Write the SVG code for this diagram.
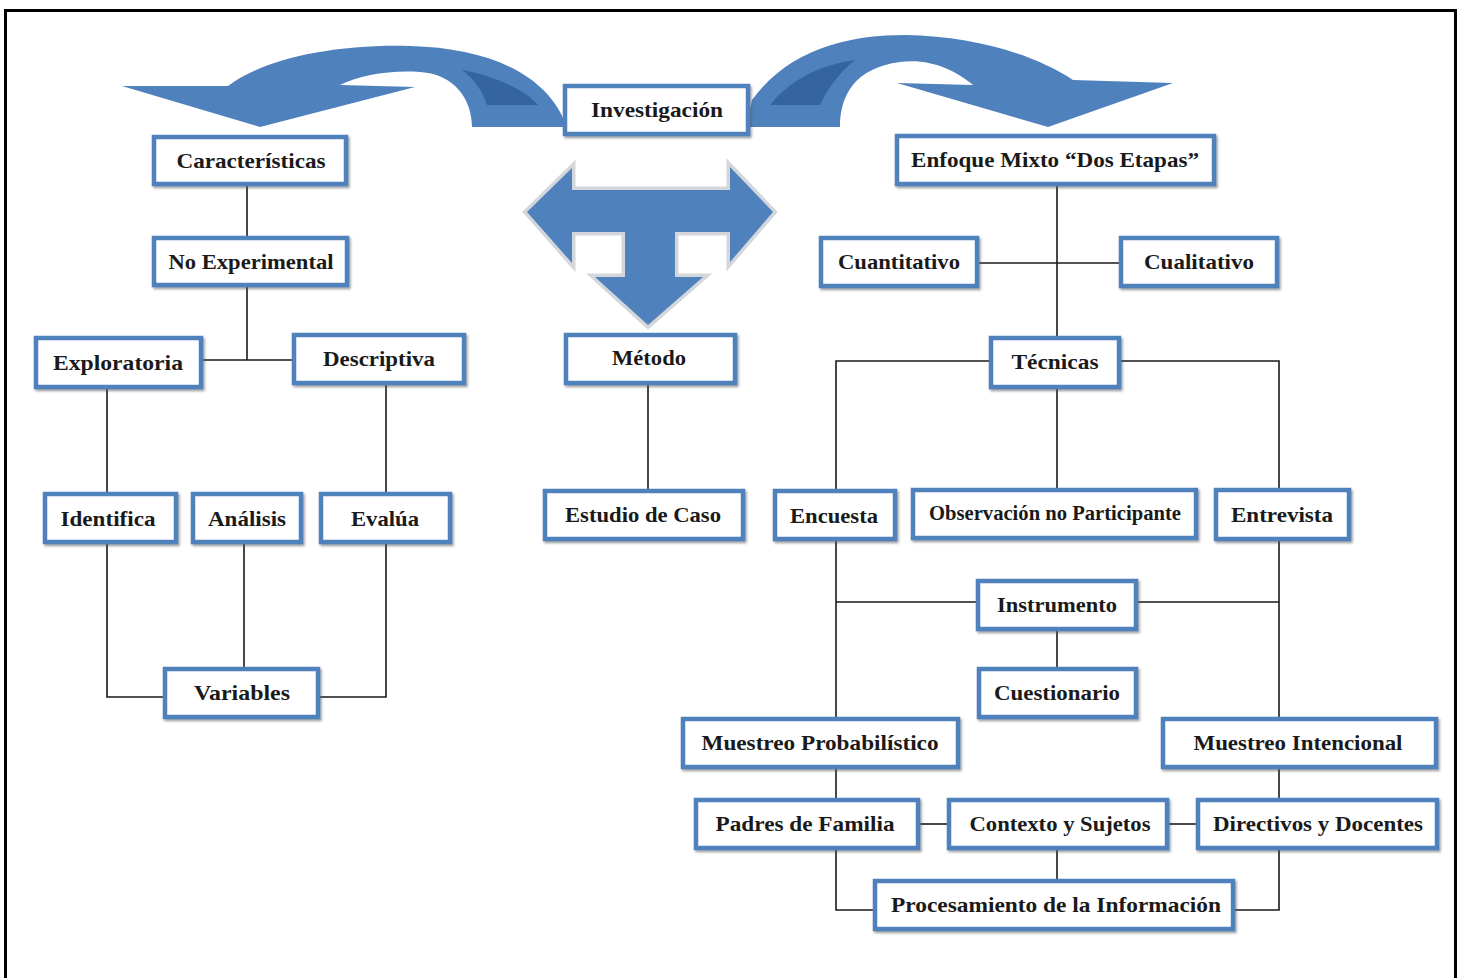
<svg xmlns="http://www.w3.org/2000/svg" width="1464" height="978" viewBox="0 0 1464 978">
<style>
.box{fill:#fff;stroke:#4f81bd;stroke-width:4.5;filter:url(#sh)}
.t{font-family:"Liberation Serif","Times New Roman",serif;font-weight:bold;font-size:22px;fill:#1a1a1a;text-anchor:middle}
.c{fill:none;stroke:#1a1a1a;stroke-width:1.6}
.arr{fill:#4f81bd}
.dark{fill:#35659f}
</style>
<defs>
<filter id="sh" x="-10%" y="-20%" width="120%" height="150%">
<feDropShadow dx="1.5" dy="2" stdDeviation="1.2" flood-color="#555" flood-opacity="0.55"/>
</filter>
</defs>
<rect x="0" y="0" width="1464" height="978" fill="#fff"/>
<rect x="5.5" y="10.5" width="1450" height="980" fill="#fff" stroke="#000" stroke-width="3"/>

<g id="arrows">
<path class="arr" d="M122,86 L228,86 C262,60 330,44 410,46 C490,48 548,75 566,125 L566,127 L472,127 C472,100 455,74 420,72 C390,70 360,75 340,85 L415,87 L260,127 Z"/>
<path class="dark" d="M462,70 C495,76 525,90 538,105 L487,105 C483,92 475,80 462,70 Z"/>
<path class="arr" d="M1173,83 L1073,80 C1035,55 975,36 905,35 C850,35 790,48 752,100 L746,127 L840,127 C840,95 855,68 900,62 C930,58 955,70 973,85 L897,83 L1048,127 Z"/>
<path class="dark" d="M770,105 C790,80 820,65 855,60 C840,72 828,88 820,105 Z"/>
<path d="M527,212 L572,168 L572,190 L730,190 L730,167 L773,212 L730,262 L730,232 L675,232 L675,277 L703,277 L648,325 L595,277 L625,277 L625,232 L572,232 L572,263 Z" fill="none" stroke="#d3d7dc" stroke-width="7" stroke-linejoin="miter"/>
<path class="arr" d="M527,212 L572,168 L572,190 L730,190 L730,167 L773,212 L730,262 L730,232 L675,232 L675,277 L703,277 L648,325 L595,277 L625,277 L625,232 L572,232 L572,263 Z"/>
</g>

<g id="connectors">
<polyline class="c" points="247,186 247,236"/>
<polyline class="c" points="247,287 247,360"/>
<polyline class="c" points="203,360 292,360"/>
<polyline class="c" points="107,389 107,492"/>
<polyline class="c" points="386,385 386,492"/>
<polyline class="c" points="107,544 107,697 163,697"/>
<polyline class="c" points="244,544 244,667"/>
<polyline class="c" points="386,544 386,697 320,697"/>
<polyline class="c" points="648,385 648,489"/>
<polyline class="c" points="1057,186 1057,336"/>
<polyline class="c" points="979,263 1119,263"/>
<polyline class="c" points="989,361 836,361 836,489"/>
<polyline class="c" points="1121,361 1279,361 1279,488"/>
<polyline class="c" points="1057,389 1057,488"/>
<polyline class="c" points="836,541 836,717"/>
<polyline class="c" points="836,602 976,602"/>
<polyline class="c" points="1279,541 1279,717"/>
<polyline class="c" points="1138,602 1279,602"/>
<polyline class="c" points="1057,631 1057,667"/>
<polyline class="c" points="836,769 836,798"/>
<polyline class="c" points="836,850 836,910 873,910"/>
<polyline class="c" points="1279,769 1279,798"/>
<polyline class="c" points="1279,850 1279,910 1235,910"/>
<polyline class="c" points="920,824 947,824"/>
<polyline class="c" points="1169,824 1196,824"/>
<polyline class="c" points="1057,850 1057,879"/>
</g>

<g id="n-investigacion"><rect class="box" x="565" y="86" width="183" height="48"/><text class="t" x="657" y="117" textLength="132" lengthAdjust="spacingAndGlyphs">Investigación</text></g>
<g id="n-caracteristicas"><rect class="box" x="154" y="137" width="192" height="47"/><text class="t" x="251" y="168" textLength="149" lengthAdjust="spacingAndGlyphs">Características</text></g>
<g id="n-noexperimental"><rect class="box" x="154" y="238" width="193" height="47"/><text class="t" x="251" y="269" textLength="165" lengthAdjust="spacingAndGlyphs">No Experimental</text></g>
<g id="n-exploratoria"><rect class="box" x="36" y="338" width="165" height="49"/><text class="t" x="118" y="370" textLength="130" lengthAdjust="spacingAndGlyphs">Exploratoria</text></g>
<g id="n-descriptiva"><rect class="box" x="294" y="335" width="170" height="48"/><text class="t" x="379" y="366" textLength="112" lengthAdjust="spacingAndGlyphs">Descriptiva</text></g>
<g id="n-identifica"><rect class="box" x="45" y="494" width="131" height="48"/><text class="t" x="108" y="526" textLength="95" lengthAdjust="spacingAndGlyphs">Identifica</text></g>
<g id="n-analisis"><rect class="box" x="193" y="494" width="108" height="48"/><text class="t" x="247" y="526" textLength="78" lengthAdjust="spacingAndGlyphs">Análisis</text></g>
<g id="n-evalua"><rect class="box" x="321" y="494" width="129" height="48"/><text class="t" x="385" y="526" textLength="68" lengthAdjust="spacingAndGlyphs">Evalúa</text></g>
<g id="n-variables"><rect class="box" x="165" y="669" width="153" height="48"/><text class="t" x="242" y="700" textLength="96" lengthAdjust="spacingAndGlyphs">Variables</text></g>
<g id="n-metodo"><rect class="box" x="566" y="335" width="169" height="48"/><text class="t" x="649" y="365" textLength="74" lengthAdjust="spacingAndGlyphs">Método</text></g>
<g id="n-estudio"><rect class="box" x="545" y="491" width="198" height="48"/><text class="t" x="643" y="522" textLength="156" lengthAdjust="spacingAndGlyphs">Estudio de Caso</text></g>
<g id="n-enfoque"><rect class="box" x="897" y="136" width="317" height="48"/><text class="t" x="1055" y="167" textLength="288" lengthAdjust="spacingAndGlyphs">Enfoque Mixto “Dos Etapas”</text></g>
<g id="n-cuantitativo"><rect class="box" x="821" y="238" width="156" height="48"/><text class="t" x="899" y="269" textLength="122" lengthAdjust="spacingAndGlyphs">Cuantitativo</text></g>
<g id="n-cualitativo"><rect class="box" x="1121" y="238" width="156" height="48"/><text class="t" x="1199" y="269" textLength="110" lengthAdjust="spacingAndGlyphs">Cualitativo</text></g>
<g id="n-tecnicas"><rect class="box" x="991" y="338" width="128" height="49"/><text class="t" x="1055" y="369" textLength="87" lengthAdjust="spacingAndGlyphs">Técnicas</text></g>
<g id="n-encuesta"><rect class="box" x="775" y="491" width="120" height="48"/><text class="t" x="834" y="523" textLength="88" lengthAdjust="spacingAndGlyphs">Encuesta</text></g>
<g id="n-observacion"><rect class="box" x="913" y="490" width="283" height="48"/><text class="t" x="1055" y="520" textLength="252" lengthAdjust="spacingAndGlyphs">Observación no Participante</text></g>
<g id="n-entrevista"><rect class="box" x="1216" y="490" width="133" height="49"/><text class="t" x="1282" y="522" textLength="102" lengthAdjust="spacingAndGlyphs">Entrevista</text></g>
<g id="n-instrumento"><rect class="box" x="978" y="581" width="158" height="48"/><text class="t" x="1057" y="612" textLength="120" lengthAdjust="spacingAndGlyphs">Instrumento</text></g>
<g id="n-cuestionario"><rect class="box" x="979" y="669" width="157" height="48"/><text class="t" x="1057" y="700" textLength="126" lengthAdjust="spacingAndGlyphs">Cuestionario</text></g>
<g id="n-mprob"><rect class="box" x="683" y="719" width="275" height="48"/><text class="t" x="820" y="750" textLength="237" lengthAdjust="spacingAndGlyphs">Muestreo Probabilístico</text></g>
<g id="n-mint"><rect class="box" x="1163" y="719" width="273" height="48"/><text class="t" x="1298" y="750" textLength="209" lengthAdjust="spacingAndGlyphs">Muestreo Intencional</text></g>
<g id="n-padres"><rect class="box" x="696" y="800" width="222" height="48"/><text class="t" x="805" y="831" textLength="179" lengthAdjust="spacingAndGlyphs">Padres de Familia</text></g>
<g id="n-contexto"><rect class="box" x="949" y="800" width="218" height="48"/><text class="t" x="1060" y="831" textLength="181" lengthAdjust="spacingAndGlyphs">Contexto y Sujetos</text></g>
<g id="n-directivos"><rect class="box" x="1198" y="800" width="239" height="48"/><text class="t" x="1318" y="831" textLength="210" lengthAdjust="spacingAndGlyphs">Directivos y Docentes</text></g>
<g id="n-procesamiento"><rect class="box" x="875" y="881" width="358" height="48"/><text class="t" x="1056" y="912" textLength="330" lengthAdjust="spacingAndGlyphs">Procesamiento de la Información</text></g>
</svg>
